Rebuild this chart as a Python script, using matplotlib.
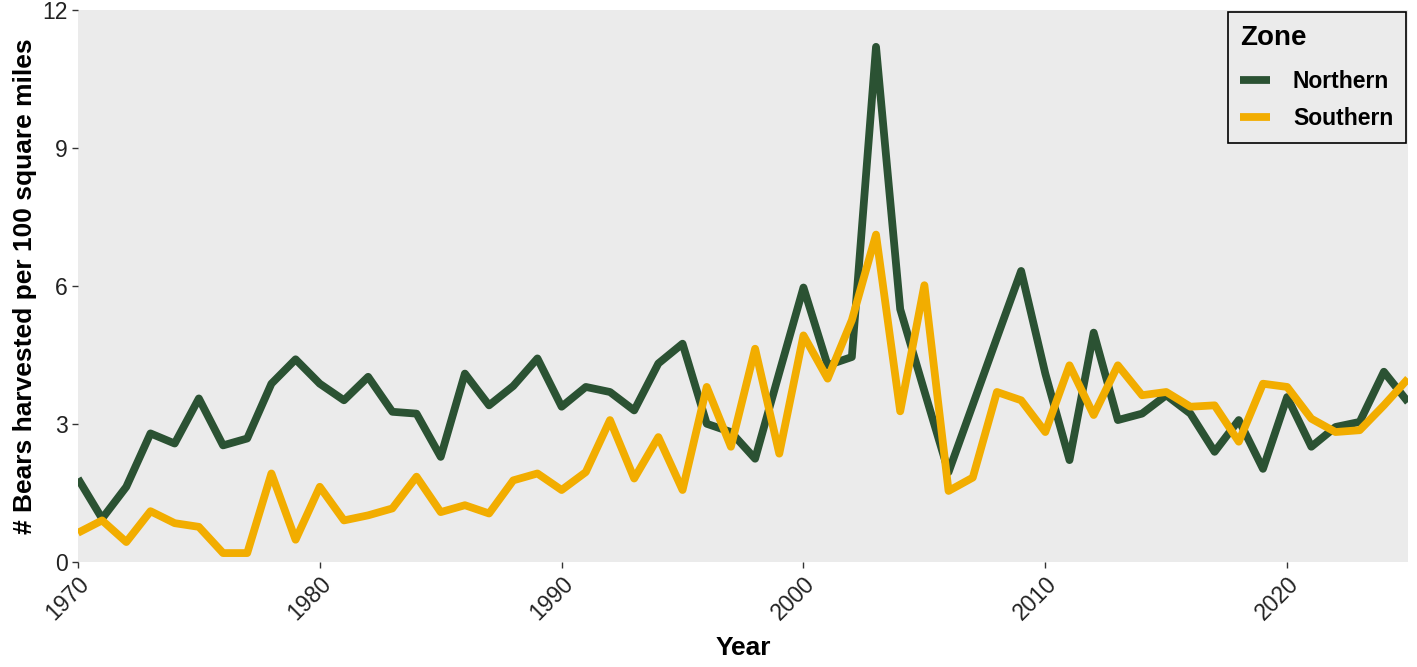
import numpy as np
import matplotlib
matplotlib.use("Agg")
import matplotlib.pyplot as plt

plt.rcParams['font.family'] = ['Liberation Sans', 'DejaVu Sans']

# Bears harvested per 100 square miles, by zone
years = list(range(1970, 2026))

northern = [1.82, 0.95, 1.64, 2.80, 2.58, 3.56, 2.54, 2.69, 3.88, 4.41,
            3.88, 3.52, 4.03, 3.27, 3.23, 2.29, 4.10, 3.41, 3.83, 4.43,
            3.38, 3.81, 3.70, 3.30, 4.32, 4.75, 3.01, 2.83, 2.25, 4.12,
            5.97, 4.28, 4.46, 11.2, 5.50, 3.72, 1.96, 3.42, 4.88, 6.33,
            4.10, 2.22, 4.99, 3.09, 3.23, 3.63, 3.23, 2.40, 3.09, 2.03,
            3.59, 2.51, 2.94, 3.05, 4.14, 3.48]

southern = [0.64, 0.91, 0.44, 1.11, 0.85, 0.77, 0.20, 0.20, 1.93, 0.49,
            1.64, 0.91, 1.02, 1.17, 1.86, 1.09, 1.24, 1.06, 1.78, 1.93,
            1.57, 1.96, 3.09, 1.82, 2.72, 1.57, 3.81, 2.51, 4.64, 2.36,
            4.93, 3.99, 5.26, 7.12, 3.28, 6.02, 1.55, 1.84, 3.70, 3.52,
            2.83, 4.28, 3.20, 4.28, 3.63, 3.70, 3.38, 3.41, 2.62, 3.88,
            3.81, 3.12, 2.83, 2.87, 3.41, 3.99]

zones = ["Northern", "Southern"]
colors = {"Northern": "#2b5233", "Southern": "#f2ad00"}

fig = plt.figure(figsize=(14.17, 6.67), dpi=100)
ax = fig.add_axes([0.055, 0.157, 0.9387, 0.828])
ax.set_facecolor("#ebebeb")

for name, vals in zip(zones, [northern, southern]):
    ax.plot(years, vals, color=colors[name], lw=5.6, label=name,
            solid_joinstyle="round", solid_capstyle="butt")

ax.set_xlim(1970, 2025)
ax.set_ylim(0, 12)
ax.set_xticks([1970, 1980, 1990, 2000, 2010, 2020])
ax.set_yticks([0, 3, 6, 9, 12])
for s in ax.spines.values():
    s.set_visible(False)
ax.tick_params(axis="both", colors="#333333", labelcolor="#222222",
               labelsize=16.5, length=4, width=1)
plt.setp(ax.get_xticklabels(), rotation=45, ha="right",
         rotation_mode="anchor")

ax.set_xlabel("Year", fontsize=19, fontweight="bold", labelpad=8)
ax.set_ylabel("# Bears harvested per 100 square miles", fontsize=19,
              fontweight="bold", labelpad=4)

leg = ax.legend(title="Zone", loc="upper right", frameon=True,
                fancybox=False, handlelength=1.3, handletextpad=1.0,
                borderaxespad=0.1, borderpad=0.55, labelspacing=0.6,
                prop={"weight": "bold", "size": 16.5})
leg.get_title().set_fontweight("bold")
leg.get_title().set_fontsize(20)
leg._legend_box.align = "left"
leg._legend_box.sep = 14
leg.get_frame().set_edgecolor("black")
leg.get_frame().set_facecolor("#ebebeb")
leg.get_frame().set_linewidth(1.2)
leg.get_frame().set_alpha(1)

fig.savefig("out.png", dpi=100)
